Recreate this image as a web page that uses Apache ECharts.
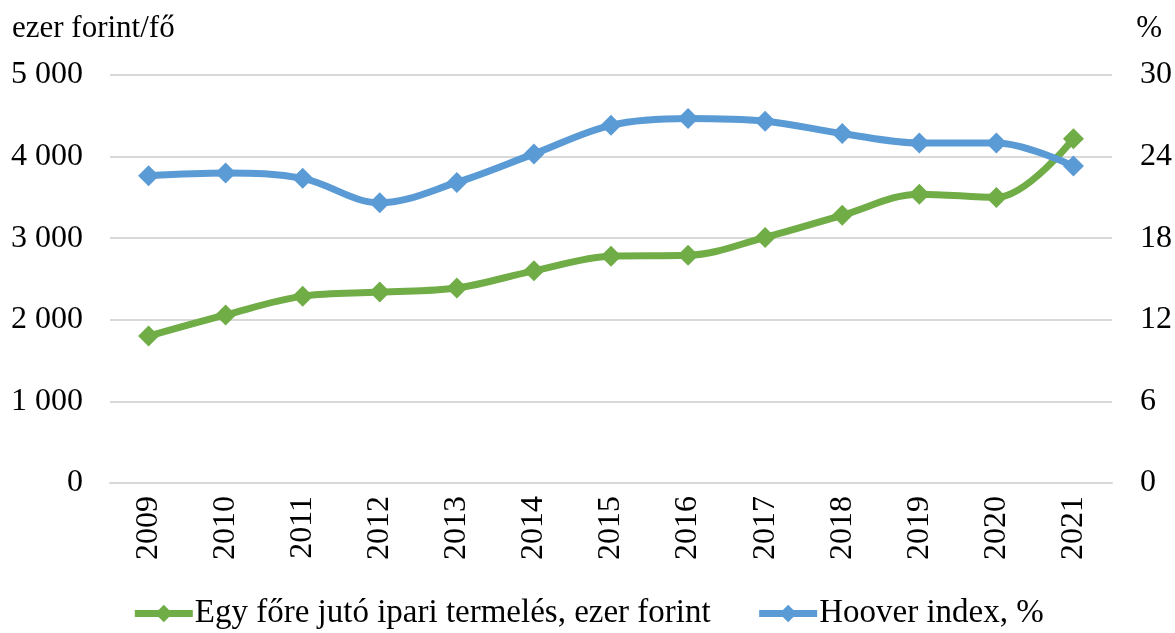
<!DOCTYPE html>
<html lang="hu">
<head>
    <meta charset="UTF-8">
    <title>Ipari termelés és Hoover index</title>
    <script src="https://cdn.jsdelivr.net/npm/echarts@6/dist/echarts.min.js"></script>
</head>
<body style="margin:0">
<div id="main" style="width:1175px;height:633px;"></div>
<script>
    var years = ['2009','2010','2011','2012','2013','2014','2015','2016','2017','2018','2019','2020','2021'];
    var termeles = [1800, 2060, 2290, 2340, 2390, 2600, 2780, 2790, 3010, 3280, 3540, 3500, 4220];
    var hoover = [22.6, 22.8, 22.4, 20.6, 22.1, 24.2, 26.3, 26.8, 26.6, 25.7, 25.0, 25.0, 23.3];

    var font = 'Liberation Serif';
    var myChart = echarts.init(document.getElementById('main'));
    var option = {
        animation: false,
        textStyle: {fontFamily: font},
        title: [
            {text: 'ezer forint/fő', left: 7, top: 8, textStyle: {fontFamily: font, fontSize: 31, fontWeight: 'normal', color: '#000'}},
            {text: '%', right: 8, top: 8, textStyle: {fontFamily: font, fontSize: 31, fontWeight: 'normal', color: '#000'}}
        ],
        grid: {left: 110, right: 63, top: 75, bottom: 150},
        legend: {
            bottom: -2,
            itemWidth: 58,
            itemHeight: 22,
            itemGap: 45,
            lineStyle: {width: 7},
            textStyle: {fontFamily: font, fontSize: 33, color: '#000', padding: [0, 0, 0, -3]},
            data: ['Egy főre jutó ipari termelés, ezer forint', 'Hoover index, %']
        },
        xAxis: {
            type: 'category',
            data: years,
            boundaryGap: true,
            axisLine: {lineStyle: {color: '#d9d9d9', width: 2}},
            axisTick: {show: false},
            axisLabel: {rotate: 90, fontSize: 32, color: '#000', margin: 13, fontFamily: font}
        },
        yAxis: [
            {
                type: 'value', min: 0, max: 5000, interval: 1000,
                axisLabel: {
                    fontSize: 32, color: '#000', margin: 27, fontFamily: font,
                    formatter: function (v) { return String(v).replace(/\B(?=(\d{3})+(?!\d))/g, ' '); }
                },
                splitLine: {lineStyle: {color: '#d9d9d9', width: 2}}
            },
            {
                type: 'value', min: 0, max: 30, interval: 6,
                axisLabel: {fontSize: 32, color: '#000', margin: 28, fontFamily: font},
                splitLine: {show: false}
            }
        ],
        series: [
            {
                name: 'Egy főre jutó ipari termelés, ezer forint',
                type: 'line',
                yAxisIndex: 0,
                data: termeles,
                smooth: 0.35,
                symbol: 'diamond',
                symbolSize: 21,
                lineStyle: {width: 7, color: '#70AD47'},
                itemStyle: {color: '#70AD47'}
            },
            {
                name: 'Hoover index, %',
                type: 'line',
                yAxisIndex: 1,
                data: hoover,
                smooth: 0.35,
                symbol: 'diamond',
                symbolSize: 21,
                lineStyle: {width: 7, color: '#5B9BD5'},
                itemStyle: {color: '#5B9BD5'}
            }
        ]
    };
    myChart.setOption(option);
</script>
</body>
</html>
